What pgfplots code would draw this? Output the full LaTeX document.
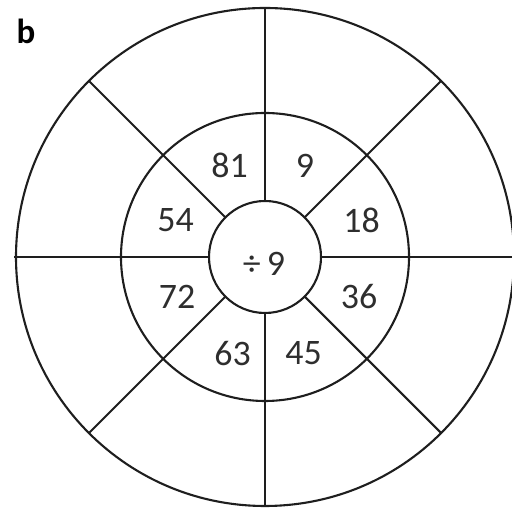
\documentclass[border=0pt]{standalone}
\usepackage{fontspec}
\setmainfont{Carlito}
\usepackage{pgfplots}
\pgfplotsset{compat=1.18}
\definecolor{ln}{HTML}{1E1E1E}
\definecolor{tx}{HTML}{2E2E2E}
\begin{document}
\begin{tikzpicture}
\begin{axis}[
  width=512bp, height=510bp, scale only axis,
  xmin=0, xmax=512, ymin=0, ymax=510,
  hide axis, clip=true,
]
% circles (centre 265,253)
\draw[ln, line width=2.1bp] (axis cs:265,253) circle [radius=249];
\draw[ln, line width=2.1bp] (axis cs:265,253) circle [radius=144];
\draw[ln, line width=2.1bp] (axis cs:265,253) circle [radius=56];
% rays
\addplot[ln, line width=2.1bp] coordinates {(321,253) (515,253)};
\addplot[ln, line width=2.1bp] coordinates {(209,253) (14,253)};
\addplot[ln, line width=2.1bp] coordinates {(265,309) (265,503)};
\addplot[ln, line width=2.1bp] coordinates {(265,197) (265,3)};
\addplot[ln, line width=2.1bp] coordinates {(304.6,292.6) (441.1,429.1)};
\addplot[ln, line width=2.1bp] coordinates {(225.4,292.6) (88.9,429.1)};
\addplot[ln, line width=2.1bp] coordinates {(225.4,213.4) (88.9,76.9)};
\addplot[ln, line width=2.1bp] coordinates {(304.6,213.4) (441.1,76.9)};
% labels
\begin{scope}[every node/.style={text=tx, font=\fontsize{36}{40}\selectfont, inner sep=0pt, anchor=center}]
\node at (axis cs:229.5,344.5) {81};
\node at (axis cs:305,344.5) {9};
\node at (axis cs:175.5,289.5) {54};
\node at (axis cs:361.5,289.5) {18};
\node at (axis cs:177,213) {72};
\node at (axis cs:359,213) {36};
\node at (axis cs:232.5,156.5) {63};
\node at (axis cs:303.5,156.5) {45};
\node at (axis cs:264,246) {÷\,9};
\end{scope}
\node[text=black, font=\fontsize{35}{40}\selectfont\bfseries, inner sep=0pt] at (axis cs:26,479) {b};
\end{axis}
\pgfresetboundingbox
\path[use as bounding box] (current axis.south west) rectangle (current axis.north east);
\end{tikzpicture}
\end{document}
